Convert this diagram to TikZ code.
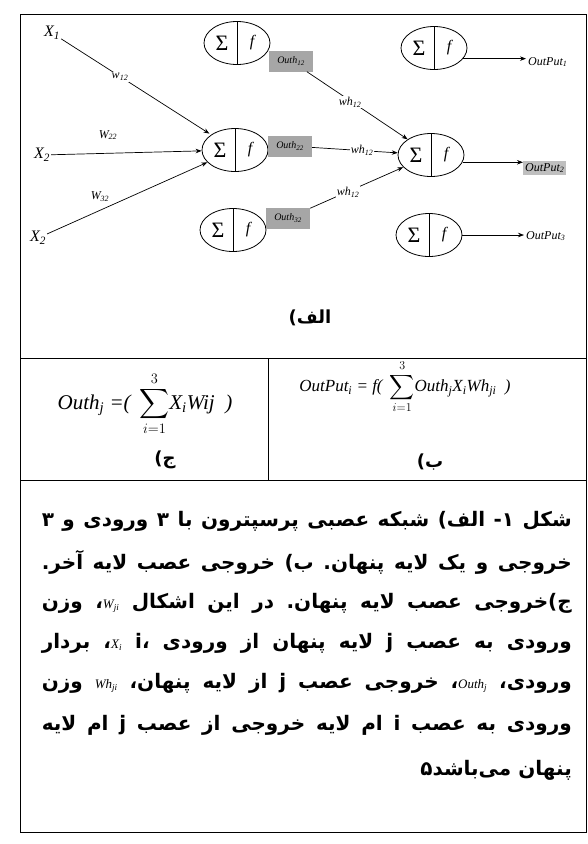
\documentclass[tikz,border=0pt]{standalone}
\usepackage{amsmath}
\usepackage{fontspec}
\setmainfont{Liberation Serif}
\newfontfamily\fa[Script=Arabic]{DejaVu Sans}
\usetikzlibrary{shapes.geometric,arrows.meta}
\TeXXeTstate=1
\frenchspacing
\tikzset{
  neuron/.style={draw, ellipse, minimum width=66pt, minimum height=43pt, inner sep=0pt, line width=0.8pt},
  arr/.style={-{Stealth[length=6pt,width=4.5pt]}, line width=0.7pt},
  shadebox/.style={fill=gray!70, inner sep=1pt, minimum width=44pt, minimum height=21pt, font=\fontsize{10}{10}\selectfont\itshape},
  wlab/.style={fill=white, inner sep=1pt, font=\fontsize{12}{12}\selectfont\itshape},
  inlab/.style={inner sep=1pt, font=\fontsize{16}{16}\selectfont\itshape},
  outlab/.style={inner sep=2pt, font=\fontsize{12}{12}\selectfont\itshape},
  framel/.style={line width=0.9pt},
  faline/.style={inner sep=0pt, font=\fa\bfseries\fontsize{20}{20}\selectfont},
  falab/.style={inner sep=0pt, font=\fa\bfseries\fontsize{18}{18}\selectfont},
}
\newcommand\neuron[3]{%
  \node[neuron] (#1) at (#2,#3) {};
  \draw[line width=0.8pt] (#1.north) -- (#1.south);
  \node (#1s) at ([xshift=-15pt]#1.center) {\fontsize{22}{22}\selectfont Σ};
  \node (#1f) at ([xshift=15pt]#1.center) {\fontsize{16}{16}\selectfont\itshape f};}
\newcommand\lt[1]{\beginL{\rmfamily\mdseries\itshape\fontsize{13}{13}\selectfont #1}\endL}
\newcommand\capline[3]{\node[faline, anchor=east] (#1) at (572,#2) {\hbox to 530pt{#3}};}
\begin{document}
\begin{tikzpicture}[x=1pt,y=-1pt]
\fill[white] (0,0) rectangle (588,844);
\useasboundingbox (0,0) rectangle (588,844);
% frame
\draw[framel] (20,14) rectangle (586,832);
\draw[framel] (20,358) -- (586,358);
\draw[framel] (20,480) -- (586,480);
\draw[framel] (268,358) -- (268,480);
% neurons
\neuron{h1}{237}{43}
\neuron{h2}{235}{150}
\neuron{h3}{233}{230}
\neuron{o1}{434}{48}
\neuron{o2}{431}{155}
\neuron{o3}{429}{235}
% inputs
\node[inlab] (x1) at (52,33) {X\textsubscript{1}};
\node[inlab] (x2) at (42,155) {X\textsubscript{2}};
\node[inlab] (x3) at (38,238) {X\textsubscript{2}};
\draw[arr, shorten >=2pt] (x1) -- (h2);
\draw[arr] (x2) -- (h2);
\draw[arr] (x3) -- (h2);
\node[wlab] (w1) at (120,77) {w\textsubscript{12}};
\node[wlab] (w2) at (108,135) {W\textsubscript{22}};
\node[wlab] (w3) at (100,197) {W\textsubscript{32}};
% hidden outputs
\node[shadebox] (b1) at (291,61) {Outh\textsubscript{12}};
\node[shadebox] (b2) at (290,146) {Outh\textsubscript{22}};
\node[shadebox] (b3) at (288,218) {Outh\textsubscript{32}};
\draw[arr] (b1) -- (o2);
\draw[arr] (b2) -- (o2);
\draw[arr] (b3) -- (o2);
\node[wlab] (v1) at (350,102) {wh\textsubscript{12}};
\node[wlab] (v2) at (362,150) {wh\textsubscript{12}};
\node[wlab] (v3) at (348,192) {wh\textsubscript{12}};
% outputs
\node[outlab, anchor=west] (p1) at (526,62) {OutPut\textsubscript{1}};
\node[outlab, anchor=west, fill=gray!50] (p2) at (523,168) {OutPut\textsubscript{2}};
\node[outlab, anchor=west] (p3) at (524,236) {OutPut\textsubscript{3}};
\draw[arr] (o1.-20) -- (o1.-20 -| p1.west);
\draw[arr] (o2.-13) -- (o2.-13 -| p2.west);
\draw[arr] (o3.east) -- (o3.east -| p3.west);
% panel label
\node[falab] (alef) at (310,318) {\beginR الف)\endR};
% formulas
\node (eqL) at (145,404) {\fontsize{21}{21}\selectfont\itshape Outh\textsubscript{j} =( \,$\displaystyle\sum_{i=1}^{3}$X\textsubscript{i}Wij \ )};
\node (eqR) at (405,387) {\fontsize{17}{17}\selectfont\itshape OutPut\textsubscript{i} = f( \,$\displaystyle\sum_{i=1}^{3}$Outh\textsubscript{j}X\textsubscript{i}Wh\textsubscript{ji} \ )};
\node[falab] (jim) at (165,460) {\beginR ج)\endR};
\node[falab] (be) at (430,462) {\beginR ب)\endR};
% caption
\capline{c1}{521}{\beginR شکل ۱- الف) شبکه عصبی پرسپترون با ۳ ورودی و ۳\endR}
\capline{c2}{562}{\beginR خروجی و یک لایه پنهان. ب) خروجی عصب لایه آخر.\endR}
\capline{c3}{603}{\beginR ج)خروجی عصب لایه پنهان. در این اشکال \lt{W\textsubscript{ji}}، وزن\endR}
\capline{c4}{643}{\beginR ورودی به عصب j لایه پنهان از ورودی i، \lt{X\textsubscript{i}}، بردار\endR}
\capline{c5}{683}{\beginR ورودی، \lt{Outh\textsubscript{j}}، خروجی عصب j از لایه پنهان، \lt{Wh\textsubscript{ji}} وزن\endR}
\capline{c6}{725}{\beginR ورودی به عصب i ام لایه خروجی از عصب j ام لایه\endR}
\node[faline, anchor=east] (c7) at (572,770) {\beginR پنهان می‌باشد۵\endR};
\end{tikzpicture}
\end{document}
